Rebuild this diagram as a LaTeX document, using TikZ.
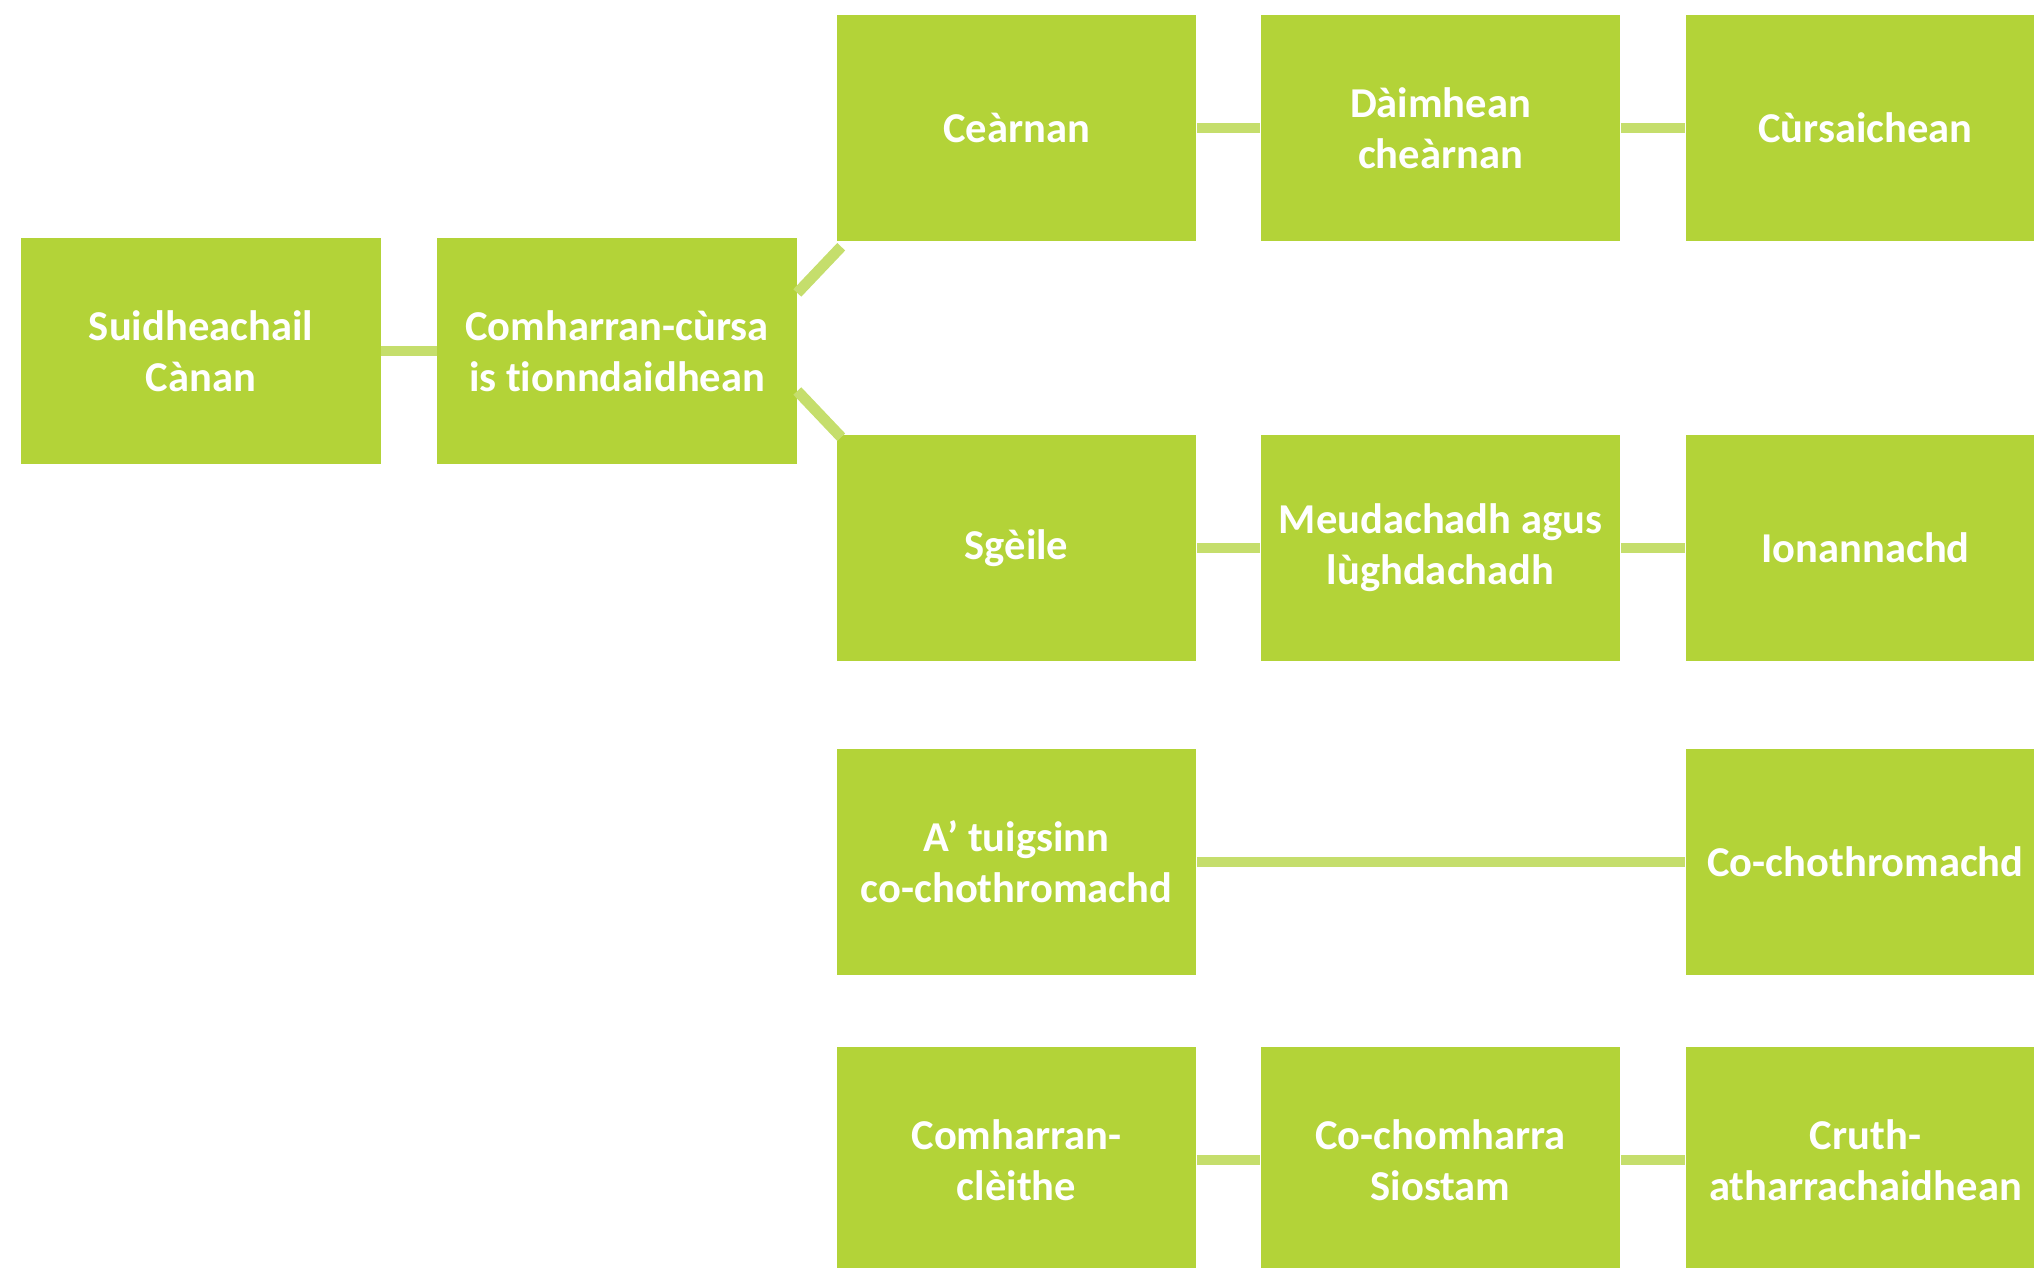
\documentclass[tikz,border=0pt]{standalone}
\usepackage{fontspec}
\setmainfont[Ligatures=NoCommon]{Carlito}
\definecolor{leaf}{RGB}{179,211,56}
\definecolor{stem}{RGB}{197,222,108}
\begin{document}
\begin{tikzpicture}[
  x=0.01cm,y=-0.01cm,
  box/.style={fill=leaf, draw=none, minimum width=3.59cm, minimum height=2.26cm,
              align=center, inner sep=2pt, text=white,
              font=\fontsize{12.1}{14.6}\selectfont\bfseries},
  link/.style={draw=stem, line width=3.1pt}
]
  \useasboundingbox (0,0) rectangle (2034,1268);
  \clip (0,0) rectangle (2034,1268);

  \node[box] (suid) at (201,351) {Suidheachail\\Cànan};
  \node[box] (cmh)  at (617,351) {Comharran-cùrsa\\is tionndaidhean};

  \node[box] (cea)  at (1016.5,128) {Ceàrnan};
  \node[box] (daim) at (1440.5,128) {Dàimhean\\cheàrnan};
  \node[box] (curs) at (1865.5,128) {Cùrsaichean};

  \node[box] (sgeil) at (1016.5,548) {Sgèile};
  \node[box] (meud)  at (1440.5,548) {Meudachadh agus\\lùghdachadh};
  \node[box] (ionan) at (1865.5,548) {Ionannachd};

  \node[box] (tuig)  at (1016.5,862) {A’ tuigsinn\\co-chothromachd};
  \node[box] (coch)  at (1865.5,862) {Co-chothromachd};

  \node[box] (clei)  at (1016.5,1160) {Comharran-\\clèithe};
  \node[box] (sios)  at (1440.5,1160) {Co-chomharra\\Siostam};
  \node[box] (cruth) at (1865.5,1160) {Cruth-\\atharrachaidhean};

  \draw[link] (suid) -- (cmh);
  \draw[link] ([yshift=5.8mm]cmh.east) -- ([shift={(5,5)}]cea.south west);
  \draw[link] ([yshift=-4mm]cmh.east) -- ([shift={(5,3)}]sgeil.north west);
  \draw[link] (cea) -- (daim);
  \draw[link] (daim) -- (curs);
  \draw[link] (sgeil) -- (meud);
  \draw[link] (meud) -- (ionan);
  \draw[link] (tuig) -- (coch);
  \draw[link] (clei) -- (sios);
  \draw[link] (sios) -- (cruth);
\end{tikzpicture}
\end{document}
